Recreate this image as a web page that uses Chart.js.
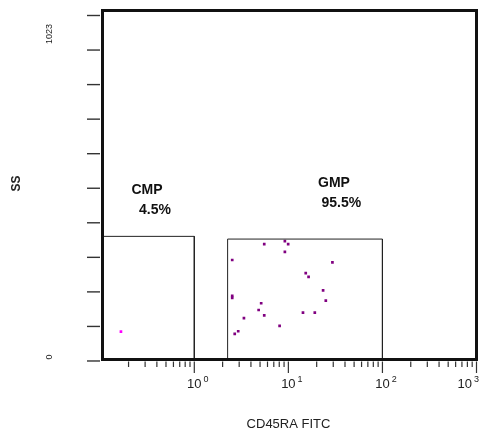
<!DOCTYPE html>
<html>
<head>
<meta charset="utf-8">
<script src="https://cdn.jsdelivr.net/npm/chart.js@4.4.1/dist/chart.umd.min.js"></script>
<style>
  html, body { margin: 0; padding: 0; background: #fff; }
  canvas { display: block; }
</style>
</head>
<body>
<canvas id="ssPlot" width="481" height="437"></canvas>
<script>
// axis ranges (x is log CD45RA, y is linear side scatter channel)
const xMin = 0.1057;
const xMax = 1000;
const yMin = 4.4;
const yMax = 1037.8;

// y tick marks and the two labelled ones
const yTickValues = [0, 102.3, 204.6, 306.9, 409.2, 511.5, 613.8, 716.1, 818.4, 920.7, 1023];
const yTickLabels = ['0', '1023'];

// decade labels on the x axis
const xDecades = [1, 10, 100, 1000];
const xDecadeExponents = ['0', '1', '2', '3'];

// gates
const gateNames = ['CMP', 'GMP'];
const gatePercents = ['4.5%', '95.5%'];
const cmpGateX = [xMin, xMin, 1, 1];
const cmpGateY = [yMin, 369, 369, yMin];
const gmpGateX = [2.26, 2.26, 100, 100];
const gmpGateY = [yMin, 361, 361, yMin];

// events
const cmpX = [0.166];
const cmpY = [86.8];
const gmpX = [5.54, 9.18, 9.95, 9.18, 2.53, 29.4, 15.3, 16.4, 23.4, 2.53, 2.53,
              25.0, 5.14, 4.83, 5.54, 14.3, 19.1, 3.37, 8.07, 2.93, 2.69];
const gmpY = [346, 355, 346, 323, 299, 292, 260, 249, 209, 193, 187,
              179, 171, 151, 135, 143, 143, 127, 104, 88, 80];

const FONT = '"Liberation Sans", Arial, sans-serif';

function toPoints(xs, ys) {
    return xs.map((x, i) => ({ x: x, y: ys[i] }));
}

// frame, ticks and all the text around the plot
const plotDecor = {
    id: 'plotDecor',
    afterDatasetsDraw(chart) {
        const { ctx, chartArea: a, scales } = chart;
        const x = scales.x, y = scales.y;
        ctx.save();

        // y tick marks
        ctx.strokeStyle = '#333';
        ctx.lineWidth = 1.4;
        yTickValues.forEach(v => {
            const py = y.getPixelForValue(v);
            ctx.beginPath();
            ctx.moveTo(a.left - 15.5, py);
            ctx.lineTo(a.left - 2.5, py);
            ctx.stroke();
        });

        // x tick marks, long ones on the decades
        ctx.lineWidth = 1.2;
        for (let d = -1; d <= 2; d++) {
            for (let m = 1; m <= 9; m++) {
                const v = m * Math.pow(10, d);
                if (v < xMin) continue;
                const px = x.getPixelForValue(v);
                const len = m === 1 ? 11.5 : 5.5;
                ctx.beginPath();
                ctx.moveTo(px, a.bottom + 2);
                ctx.lineTo(px, a.bottom + 2 + len);
                ctx.stroke();
            }
        }
        const pEnd = x.getPixelForValue(xMax);
        ctx.beginPath();
        ctx.moveTo(pEnd, a.bottom + 2);
        ctx.lineTo(pEnd, a.bottom + 13.5);
        ctx.stroke();

        // frame
        ctx.strokeStyle = '#111';
        ctx.lineWidth = 3;
        ctx.strokeRect(a.left, a.top, a.right - a.left, a.bottom - a.top);

        ctx.fillStyle = '#222';

        // decade labels: 10 with a raised exponent, kept inside the canvas
        xDecades.forEach((v, i) => {
            let px = x.getPixelForValue(v);
            ctx.font = '9px ' + FONT;
            const expW = ctx.measureText(xDecadeExponents[i]).width;
            ctx.font = '13px ' + FONT;
            const baseW = ctx.measureText('10').width;
            const overflow = px + baseW / 2 + 2 + expW - (chart.width - 2);
            if (overflow > 0) px -= overflow;
            ctx.textAlign = 'center';
            ctx.textBaseline = 'alphabetic';
            ctx.fillText('10', px, a.bottom + 28.5);
            ctx.font = '9px ' + FONT;
            ctx.textAlign = 'left';
            ctx.fillText(xDecadeExponents[i], px + baseW / 2 + 2, a.bottom + 22.5);
        });

        // rotated y labels
        const yLabelNudge = { '0': -4, '1023': 18.5 };
        yTickLabels.forEach(t => {
            const py = y.getPixelForValue(Number(t)) + yLabelNudge[t];
            ctx.save();
            ctx.translate(49.5, py);
            ctx.rotate(-Math.PI / 2);
            ctx.font = '9px ' + FONT;
            ctx.textAlign = 'center';
            ctx.textBaseline = 'middle';
            ctx.fillText(t, 0, 0);
            ctx.restore();
        });

        // axis titles
        ctx.font = '13px ' + FONT;
        ctx.textAlign = 'center';
        ctx.textBaseline = 'alphabetic';
        ctx.fillText('CD45RA FITC', (a.left + a.right) / 2 - 1, 428);

        ctx.save();
        ctx.translate(17, (a.top + a.bottom) / 2 - 1.5);
        ctx.rotate(-Math.PI / 2);
        ctx.font = 'bold 12px ' + FONT;
        ctx.textBaseline = 'middle';
        ctx.fillText('SS', 0, 0);
        ctx.restore();

        // gate names and percentages
        ctx.fillStyle = '#111';
        ctx.font = 'bold 14px ' + FONT;
        ctx.textAlign = 'left';
        ctx.fillText(gateNames[0], 131.5, 193.5);
        ctx.fillText(gatePercents[0], 139, 213.5);
        ctx.fillText(gateNames[1], 318, 187);
        ctx.fillText(gatePercents[1], 321.5, 207);

        ctx.restore();
    }
};

const gateStyle = {
    showLine: true,
    fill: false,
    borderColor: '#222',
    borderWidth: 1,
    pointRadius: 0,
    tension: 0
};

new Chart(document.getElementById('ssPlot'), {
    type: 'scatter',
    data: {
        datasets: [
            Object.assign({ label: 'CMP gate', data: toPoints(cmpGateX, cmpGateY) }, gateStyle),
            Object.assign({ label: 'GMP gate', data: toPoints(gmpGateX, gmpGateY) }, gateStyle),
            {
                label: 'CMP',
                data: toPoints(cmpX, cmpY),
                pointStyle: 'rect',
                pointRadius: 1.9,
                borderWidth: 0,
                backgroundColor: '#ff00ff'
            },
            {
                label: 'GMP',
                data: toPoints(gmpX, gmpY),
                pointStyle: 'rect',
                pointRadius: 1.9,
                borderWidth: 0,
                backgroundColor: '#800080'
            }
        ]
    },
    options: {
        responsive: false,
        devicePixelRatio: 1,
        animation: false,
        events: [],
        layout: { padding: { left: 102.5, right: 4.5, top: 10.5, bottom: 77.5 } },
        plugins: {
            legend: { display: false },
            tooltip: { enabled: false }
        },
        scales: {
            x: { type: 'logarithmic', min: xMin, max: xMax, display: false },
            y: { type: 'linear', min: yMin, max: yMax, display: false }
        }
    },
    plugins: [plotDecor]
});
</script>
</body>
</html>
